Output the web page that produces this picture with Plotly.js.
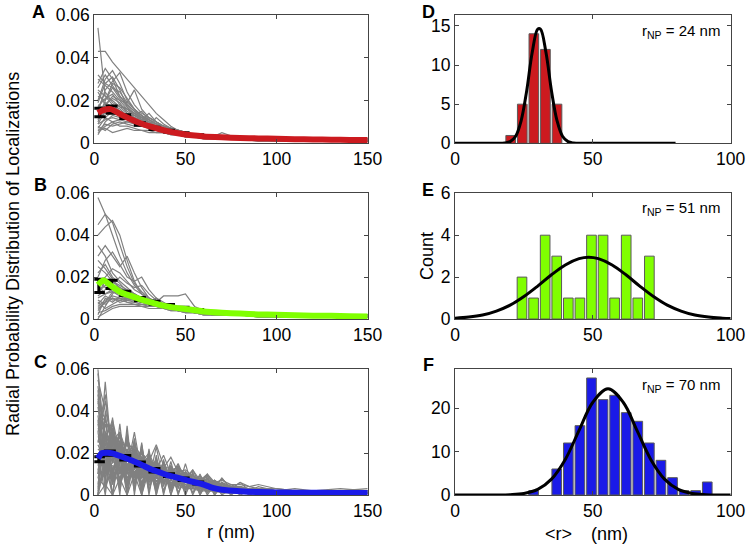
<!DOCTYPE html>
<html>
<head>
<meta charset="utf-8">
<script src="https://cdn.plot.ly/plotly-3.0.1.min.js"></script>
<style>html,body{margin:0;padding:0;background:#fff;}#chart{width:747px;height:545px;}</style>
</head>
<body>
<div id="chart"></div>
<script>
// ---------- data ----------
// x grid (nm) of individual radial distributions, panels A and B
const XG = [2,6,10,14,18,22,26,30,34,38,42,46,50,55,60,65,70,80,90,100,115,130,150];
const grayA = [
 [.054,.022,.018,.015,.012,.010,.009,.007,.006,.005,.004,.004,.003,.003,.002,.002,.002,.002,.001,.001,.001,.001,.001],
 [.043,.043,.038,.034,.030,.026,.022,.018,.014,.011,.008,.006,.005,.004,.003,.003,.002,.002,.002,.001,.001,.001,.001],
 [.028,.035,.030,.022,.018,.015,.012,.009,.007,.006,.005,.004,.003,.003,.002,.002,.002,.002,.001,.001,.001,.001,.001],
 [.020,.030,.034,.028,.020,.016,.013,.011,.009,.007,.006,.005,.004,.003,.003,.003,.002,.002,.002,.002,.001,.001,.001],
 [.015,.025,.029,.033,.024,.018,.014,.012,.010,.008,.006,.005,.004,.004,.003,.003,.002,.002,.002,.001,.001,.001,.001],
 [.010,.018,.022,.020,.019,.025,.016,.012,.010,.008,.007,.006,.005,.004,.003,.003,.003,.002,.002,.002,.002,.001,.001],
 [.012,.014,.016,.015,.013,.012,.011,.014,.010,.008,.006,.005,.004,.003,.003,.003,.002,.002,.002,.002,.001,.001,.001],
 [.005,.008,.010,.011,.012,.011,.010,.009,.008,.007,.006,.005,.004,.004,.003,.003,.003,.002,.002,.002,.002,.002,.001],
 [.025,.022,.020,.017,.014,.012,.010,.008,.007,.006,.005,.004,.004,.003,.003,.002,.002,.002,.002,.001,.001,.001,.001],
 [.008,.006,.009,.010,.009,.008,.008,.007,.007,.006,.005,.005,.004,.004,.003,.003,.003,.003,.002,.002,.002,.002,.002],
 [.030,.027,.024,.020,.016,.014,.011,.009,.008,.007,.006,.005,.004,.003,.003,.002,.002,.002,.002,.001,.001,.001,.001],
 [.004,.010,.013,.012,.011,.010,.009,.008,.007,.006,.006,.005,.005,.004,.004,.003,.003,.003,.003,.002,.002,.002,.002],
 [.018,.016,.014,.013,.011,.010,.009,.008,.007,.006,.005,.004,.004,.003,.003,.003,.005,.002,.002,.002,.002,.001,.002],
 [.022,.020,.028,.026,.021,.016,.013,.010,.008,.007,.006,.005,.004,.004,.003,.003,.002,.002,.002,.002,.001,.001,.001],
 [.014,.012,.010,.008,.008,.007,.006,.006,.005,.005,.004,.004,.003,.003,.003,.003,.002,.002,.002,.002,.002,.002,.002],
 [.009,.015,.018,.016,.013,.011,.009,.008,.012,.009,.007,.006,.005,.004,.003,.003,.003,.002,.002,.002,.001,.001,.001],
 [.016,.024,.019,.017,.016,.014,.012,.011,.009,.007,.006,.005,.005,.004,.003,.003,.003,.003,.002,.002,.002,.001,.001],
 [.006,.007,.005,.006,.007,.006,.006,.005,.005,.005,.004,.004,.004,.003,.003,.003,.003,.003,.003,.002,.002,.002,.002],
 [.026,.032,.027,.022,.018,.015,.013,.011,.009,.007,.006,.005,.004,.004,.003,.003,.002,.002,.002,.002,.001,.001,.001],
 [.011,.020,.026,.024,.019,.016,.013,.010,.008,.007,.006,.005,.004,.003,.003,.003,.002,.002,.002,.001,.001,.001,.001],
 [.019,.028,.031,.025,.017,.014,.012,.010,.008,.007,.006,.005,.005,.004,.003,.003,.003,.002,.002,.002,.002,.001,.001],
 [.007,.012,.015,.014,.013,.013,.012,.010,.009,.008,.007,.006,.005,.004,.003,.003,.003,.002,.002,.002,.002,.002,.002],
 [.013,.019,.017,.018,.016,.013,.011,.012,.010,.008,.007,.006,.005,.004,.004,.003,.003,.002,.002,.002,.001,.001,.001],
 [.032,.028,.026,.021,.017,.013,.011,.009,.008,.007,.006,.005,.004,.003,.003,.003,.002,.002,.002,.001,.001,.001,.001],
 [.009,.011,.012,.011,.010,.009,.008,.008,.007,.006,.006,.005,.004,.004,.003,.003,.003,.002,.002,.002,.002,.002,.002],
 [.017,.021,.023,.018,.015,.013,.015,.011,.009,.008,.007,.006,.005,.004,.004,.003,.003,.002,.002,.002,.002,.001,.001],
 [.006,.009,.008,.009,.010,.010,.009,.009,.008,.007,.006,.006,.005,.004,.004,.003,.003,.003,.002,.002,.002,.002,.002],
 [.024,.018,.021,.019,.014,.012,.010,.009,.008,.006,.005,.005,.004,.003,.003,.003,.002,.002,.002,.002,.001,.001,.001]
];
const grayB = [
 [.058,.050,.040,.030,.022,.016,.012,.009,.007,.006,.005,.004,.003,.003,.002,.002,.002,.002,.001,.001,.001,.001,.001],
 [.045,.050,.046,.035,.025,.017,.013,.010,.008,.006,.005,.004,.004,.003,.003,.002,.002,.002,.001,.001,.001,.001,.001],
 [.040,.044,.047,.040,.028,.018,.012,.009,.007,.006,.005,.004,.003,.003,.002,.002,.002,.002,.001,.001,.001,.001,.001],
 [.030,.035,.030,.025,.030,.022,.015,.010,.008,.006,.005,.004,.004,.003,.003,.002,.002,.002,.002,.001,.001,.001,.001],
 [.020,.028,.032,.026,.020,.018,.020,.014,.010,.008,.006,.005,.004,.003,.003,.002,.002,.002,.002,.001,.001,.001,.001],
 [.015,.020,.024,.022,.018,.014,.012,.010,.008,.011,.011,.011,.012,.006,.004,.003,.003,.002,.002,.002,.001,.001,.001],
 [.010,.012,.013,.012,.011,.010,.009,.008,.007,.006,.006,.005,.004,.004,.003,.003,.003,.002,.002,.002,.002,.001,.001],
 [.005,.008,.010,.009,.008,.008,.007,.007,.006,.006,.005,.005,.004,.004,.003,.003,.003,.003,.002,.002,.002,.002,.002],
 [.000,.006,.012,.015,.013,.011,.009,.008,.007,.006,.005,.004,.004,.003,.003,.003,.002,.002,.002,.002,.001,.001,.001],
 [.025,.022,.018,.016,.014,.012,.010,.008,.007,.006,.005,.004,.004,.003,.003,.002,.002,.002,.002,.001,.001,.001,.001],
 [.012,.018,.016,.020,.017,.015,.016,.012,.009,.007,.006,.005,.004,.004,.003,.003,.002,.002,.002,.002,.001,.001,.001],
 [.008,.005,.007,.009,.010,.009,.008,.008,.007,.007,.006,.005,.005,.004,.004,.003,.003,.003,.002,.002,.002,.002,.002],
 [.035,.030,.022,.018,.015,.012,.010,.008,.006,.005,.004,.004,.003,.003,.002,.002,.002,.002,.001,.001,.001,.001,.001],
 [.003,.004,.006,.007,.007,.007,.006,.006,.006,.005,.005,.005,.004,.004,.003,.003,.003,.003,.003,.002,.002,.002,.002],
 [.018,.015,.013,.012,.010,.009,.008,.007,.007,.006,.005,.005,.004,.004,.003,.003,.003,.002,.002,.002,.002,.002,.001],
 [.002,.010,.008,.011,.009,.010,.008,.009,.007,.006,.005,.004,.004,.003,.003,.003,.003,.002,.002,.002,.002,.002,.002],
 [.006,.009,.011,.010,.009,.009,.008,.007,.007,.006,.005,.005,.004,.004,.003,.003,.003,.002,.002,.002,.002,.002,.002],
 [.013,.016,.015,.013,.012,.011,.010,.009,.008,.007,.006,.005,.004,.004,.003,.003,.002,.002,.002,.002,.001,.001,.001],
 [.004,.008,.013,.011,.010,.011,.009,.008,.007,.006,.005,.005,.004,.004,.003,.003,.003,.002,.002,.002,.002,.001,.001],
 [.022,.026,.020,.017,.013,.011,.010,.009,.008,.007,.006,.005,.004,.004,.003,.003,.002,.002,.002,.002,.001,.001,.001],
 [.009,.007,.010,.008,.009,.008,.009,.007,.007,.006,.006,.005,.005,.004,.004,.003,.003,.003,.002,.002,.002,.002,.002],
 [.016,.012,.014,.013,.012,.010,.009,.008,.007,.007,.006,.005,.004,.004,.003,.003,.003,.002,.002,.002,.002,.002,.001],
 [.001,.003,.005,.006,.006,.006,.006,.005,.005,.005,.004,.004,.004,.003,.003,.003,.003,.003,.002,.002,.002,.002,.002],
 [.028,.024,.019,.014,.012,.010,.009,.008,.007,.006,.005,.004,.004,.003,.003,.002,.002,.002,.002,.001,.001,.001,.001],
 [.011,.014,.018,.015,.013,.012,.010,.008,.010,.007,.006,.005,.004,.004,.003,.003,.002,.002,.002,.002,.002,.001,.001],
 [.007,.011,.009,.010,.008,.007,.007,.006,.006,.005,.005,.004,.004,.004,.003,.003,.003,.002,.002,.002,.002,.002,.002]
];
// x grid (nm) of individual radial distributions, panel C
const XC = [2,6,10,14,18,22,26,30,34,38,42,46,50,54,58,62,66,70,75,80,85,90,100,110,120,135,150];
const grayC = [
 [.060,.020,.030,.010,.022,.008,.018,.006,.014,.005,.010,.004,.008,.003,.006,.002,.004,.002,.002,.001,.001,.001,.001,.001,.001,.001,.001],
 [.010,.054,.015,.030,.010,.022,.008,.016,.006,.012,.005,.009,.004,.007,.003,.005,.003,.003,.002,.002,.001,.001,.001,.001,.001,.001,.001],
 [.045,.005,.037,.004,.028,.003,.022,.002,.016,.002,.012,.001,.009,.001,.006,.001,.004,.001,.002,.001,.001,.001,.001,.001,.001,.001,.001],
 [.000,.040,.005,.034,.004,.027,.003,.020,.003,.015,.002,.011,.002,.008,.001,.006,.001,.004,.001,.002,.001,.001,.001,.000,.001,.000,.001],
 [.035,.030,.025,.028,.020,.024,.018,.016,.024,.014,.012,.013,.010,.009,.008,.007,.006,.005,.004,.003,.003,.002,.002,.002,.001,.001,.001],
 [.020,.000,.025,.000,.033,.000,.025,.000,.019,.000,.014,.000,.010,.000,.007,.000,.005,.000,.003,.000,.002,.000,.001,.000,.001,.000,.001],
 [.028,.022,.020,.018,.017,.016,.015,.014,.013,.012,.010,.009,.008,.007,.006,.005,.004,.003,.003,.002,.002,.002,.001,.001,.001,.001,.001],
 [.015,.018,.020,.019,.017,.016,.014,.013,.011,.010,.009,.008,.007,.006,.005,.004,.003,.003,.002,.002,.002,.001,.001,.001,.001,.001,.001],
 [.050,.010,.030,.012,.020,.010,.015,.008,.012,.006,.009,.005,.007,.004,.005,.003,.004,.002,.002,.002,.001,.001,.001,.001,.001,.001,.001],
 [.005,.030,.010,.025,.012,.030,.010,.018,.008,.015,.007,.012,.006,.010,.005,.008,.004,.006,.004,.003,.002,.002,.002,.001,.001,.001,.001],
 [.040,.035,.030,.022,.018,.014,.012,.010,.008,.007,.006,.005,.004,.003,.003,.002,.002,.002,.001,.001,.001,.001,.001,.000,.001,.000,.001],
 [.000,.015,.000,.020,.000,.018,.000,.022,.000,.017,.000,.014,.000,.011,.000,.008,.000,.006,.000,.004,.000,.002,.001,.000,.001,.000,.001],
 [.025,.045,.020,.015,.025,.012,.020,.010,.016,.008,.013,.007,.011,.006,.009,.005,.007,.004,.005,.003,.003,.002,.002,.001,.001,.001,.001],
 [.012,.010,.014,.012,.013,.011,.012,.010,.010,.009,.009,.008,.007,.006,.006,.005,.004,.004,.003,.003,.002,.002,.002,.001,.001,.001,.001],
 [.030,.008,.022,.006,.030,.005,.024,.004,.018,.004,.016,.003,.015,.003,.010,.002,.007,.002,.005,.002,.003,.001,.001,.001,.001,.001,.001],
 [.008,.025,.006,.020,.005,.017,.004,.014,.004,.012,.003,.010,.003,.008,.002,.006,.002,.005,.002,.003,.001,.002,.001,.001,.001,.001,.001],
 [.055,.040,.028,.020,.015,.012,.010,.008,.007,.006,.005,.004,.003,.003,.002,.002,.002,.001,.001,.001,.001,.001,.001,.001,.000,.001,.000],
 [.018,.022,.026,.024,.021,.019,.017,.015,.013,.012,.011,.010,.009,.008,.007,.006,.005,.004,.003,.003,.002,.002,.002,.001,.002,.001,.001],
 [.000,.005,.000,.008,.000,.010,.000,.012,.002,.013,.002,.012,.003,.010,.003,.009,.003,.008,.003,.006,.004,.005,.003,.002,.002,.001,.001],
 [.038,.012,.032,.010,.026,.020,.020,.016,.015,.013,.018,.011,.012,.009,.007,.010,.006,.005,.004,.004,.003,.002,.002,.001,.001,.001,.001],
 [.022,.018,.016,.014,.012,.011,.010,.009,.008,.007,.007,.006,.006,.005,.005,.004,.004,.003,.003,.003,.002,.002,.002,.002,.002,.002,.002],
 [.010,.028,.012,.022,.010,.026,.009,.020,.008,.016,.007,.014,.006,.012,.005,.010,.004,.008,.003,.006,.002,.004,.002,.003,.002,.001,.001],
 [.032,.026,.036,.020,.024,.016,.018,.012,.014,.010,.011,.008,.009,.007,.007,.005,.005,.004,.003,.003,.002,.002,.001,.001,.001,.001,.001],
 [.004,.012,.008,.016,.010,.014,.012,.010,.011,.009,.008,.009,.007,.006,.006,.005,.006,.004,.004,.003,.003,.003,.002,.002,.001,.002,.003],
 [.048,.015,.020,.030,.012,.020,.010,.015,.009,.012,.008,.010,.006,.008,.005,.006,.004,.005,.003,.004,.002,.003,.002,.001,.001,.001,.001],
 [.016,.034,.018,.028,.016,.020,.014,.016,.012,.019,.010,.014,.008,.012,.007,.009,.006,.007,.005,.005,.004,.003,.003,.002,.002,.002,.002],
 [.042,.018,.034,.015,.026,.012,.021,.010,.017,.008,.013,.006,.010,.005,.007,.004,.005,.003,.003,.002,.002,.001,.001,.001,.001,.001,.001],
 [.003,.038,.008,.030,.006,.024,.005,.019,.004,.016,.004,.013,.003,.010,.003,.008,.002,.006,.002,.004,.002,.002,.001,.001,.001,.001,.001],
 [.052,.025,.012,.020,.008,.016,.006,.013,.005,.010,.004,.008,.003,.006,.003,.005,.002,.003,.002,.002,.001,.001,.001,.001,.001,.001,.001],
 [.024,.016,.030,.012,.022,.010,.016,.020,.012,.010,.009,.015,.007,.006,.009,.005,.004,.004,.003,.003,.002,.002,.002,.001,.001,.001,.001],
 [.000,.020,.000,.024,.002,.021,.002,.018,.002,.015,.002,.012,.002,.010,.001,.008,.001,.006,.001,.004,.001,.003,.001,.001,.001,.001,.001],
 [.036,.002,.028,.002,.022,.002,.018,.002,.015,.001,.012,.001,.010,.001,.008,.001,.006,.001,.004,.001,.002,.001,.001,.000,.001,.000,.001],
 [.014,.026,.022,.016,.020,.018,.013,.015,.011,.012,.009,.010,.008,.008,.006,.006,.005,.004,.004,.003,.002,.002,.002,.002,.001,.001,.001],
 [.046,.030,.018,.026,.014,.018,.011,.014,.009,.011,.008,.009,.006,.007,.005,.006,.004,.004,.003,.003,.002,.002,.001,.001,.001,.001,.001],
 [.006,.010,.018,.008,.015,.007,.013,.006,.011,.006,.010,.005,.008,.005,.007,.004,.006,.004,.004,.003,.003,.002,.002,.002,.002,.003,.002],
 [.030,.048,.016,.024,.011,.019,.009,.014,.008,.010,.006,.008,.005,.006,.004,.005,.003,.004,.002,.003,.002,.002,.001,.001,.001,.001,.001],
 [.020,.012,.024,.010,.018,.008,.015,.007,.023,.006,.011,.005,.009,.004,.007,.003,.005,.003,.003,.002,.002,.001,.001,.001,.001,.001,.001],
 [.000,.030,.000,.026,.000,.020,.000,.016,.000,.013,.000,.010,.000,.008,.000,.006,.000,.004,.000,.003,.000,.002,.001,.000,.001,.000,.001],
 [.026,.020,.018,.017,.020,.015,.014,.012,.011,.011,.009,.008,.008,.007,.006,.005,.005,.004,.003,.003,.002,.002,.002,.001,.001,.001,.002],
 [.008,.004,.012,.005,.014,.006,.016,.007,.014,.008,.012,.008,.011,.007,.009,.006,.007,.005,.004,.004,.003,.003,.002,.002,.002,.001,.001],
 [.044,.036,.026,.030,.020,.022,.016,.017,.013,.013,.010,.010,.008,.008,.006,.006,.004,.004,.003,.003,.002,.002,.001,.001,.001,.001,.001],
 [.012,.022,.005,.018,.004,.015,.004,.012,.003,.011,.003,.009,.003,.007,.002,.005,.002,.004,.002,.003,.001,.002,.002,.001,.001,.001,.001],
 [.034,.010,.020,.028,.010,.014,.008,.012,.010,.008,.013,.007,.010,.006,.008,.005,.006,.004,.004,.003,.003,.002,.002,.002,.001,.002,.001],
 [.018,.028,.034,.016,.028,.014,.022,.011,.017,.009,.014,.008,.011,.007,.008,.005,.006,.004,.003,.003,.002,.002,.001,.001,.001,.001,.001],
 [.002,.016,.010,.012,.006,.011,.005,.009,.005,.008,.004,.008,.004,.007,.004,.006,.003,.005,.003,.004,.002,.003,.002,.002,.002,.002,.002],
 [.058,.022,.026,.014,.018,.010,.014,.009,.011,.007,.009,.006,.007,.005,.005,.004,.004,.003,.003,.002,.002,.002,.001,.001,.001,.001,.001]
];
// mean distributions
const meanX = [2,5,9,15,20,25,30,35,40,45,50,55,60,70,80,90,100,110,120,130,140,150];
const meanA = [.0142,.0155,.0160,.0133,.0113,.0095,.0080,.0068,.0057,.0048,.0041,.0036,.0032,.0028,.0025,.0023,.0021,.0019,.0018,.0017,.0016,.0015];
const meanB = [.0163,.0185,.0160,.0125,.0110,.0095,.0082,.0070,.0060,.0053,.0048,.0042,.0036,.0030,.0026,.0022,.0020,.0018,.0016,.0015,.0013,.0012];
const meanCX = [2,4,7,10,15,20,25,30,35,40,45,50,55,60,65,70,80,90,100,110,120,130,140,150];
const meanC = [.0175,.0199,.0202,.0199,.0183,.0167,.0148,.0127,.0111,.0095,.0084,.0072,.0061,.0050,.0034,.0025,.0018,.0014,.0012,.0011,.0011,.0010,.0010,.0010];
// error bars (mean +/- sem)
const errAX = [3,9.5,17,25,33,41,49,57];
const errAY = [.0144,.0157,.0125,.0090,.0070,.0057,.0045,.0037];
const errAE = [.0020,.0017,.0009,.0006,.0005,.0004,.0004,.0003];
const errBX = [2.5,9.5,17,25,33,41,49,57];
const errBY = [.0158,.0165,.0122,.0095,.0078,.0063,.0051,.0041];
const errBE = [.0032,.0020,.0010,.0008,.0007,.0006,.0005,.0004];
const errCX = [2.5,8.5,17,25,33,41,49,57];
const errCY = [.0171,.0200,.0178,.0148,.0118,.0095,.0075,.0057];
const errCE = [.0012,.0010,.0011,.0009,.0008,.0007,.0006,.0005];
// histograms of <r>
const histDX = [20.2,24.4,28.6,32.8,37.0];
const histDY = [1,5,14,12,5];
const histEX = [24.3,28.5,32.7,36.9,41.1,45.3,49.5,53.7,57.9,62.1,66.3,70.5];
const histEY = [2,1,4,3,1,1,4,4,1,4,1,3];
const histFX = [28.5,36.9,41.1,45.3,49.5,53.7,57.9,62.1,66.3,70.5,74.7,78.9,83.1,87.3,91.5];
const histFY = [1,6,12,16,27,22,23,19,17,12,8,4,1,1,3];
// fitted curves
const fitDX = [0,10,15,18,20,22,24,26,28,30,31,33,35,37,39,41,43,46,50,60,80];
const fitDY = [0,0,0.01,0.04,0.21,0.9,2.9,6.7,11.6,14.6,14.6,11.6,6.7,2.9,0.9,0.21,0.04,0,0,0,0];
const fitEX = [0,5,10,15,20,25,30,35,40,45,48.5,52,57,62,67,72,77,82,87,92,97,100];
const fitEY = [0.04,0.09,0.19,0.38,0.66,1.07,1.57,2.11,2.58,2.88,2.95,2.88,2.58,2.11,1.57,1.07,0.66,0.38,0.19,0.09,0.04,0.02];
const fitFX = [0,10,15,20,25,30,35,40,45,50,55.5,61,66,71,76,81,86,91,96,100];
const fitFY = [0,0,0.01,0.08,0.36,1.28,3.66,8.2,14.9,21.4,24.5,21.4,14.9,8.2,3.66,1.28,0.36,0.08,0.01,0];
const rnpLabels = ['24','51','70'];
const leftYTicks = [0,0.02,0.04,0.06];
const leftYText = ['0','0.02','0.04','0.06'];

// ---------- styling ----------
const GRAY = '#808080';
const RED = '#cc1a1f', GREEN = '#80ff00', BLUE = '#1a1ae8';
const FONT = 'Liberation Sans, Arial, sans-serif';
const W = 747, H = 545;
const px = v => v / W, py = v => 1 - v / H;

const traces = [];
function grayTraces(xs, rows, ax) {
  rows.forEach(r => traces.push({x: xs, y: r, xaxis: 'x' + ax, yaxis: 'y' + ax, type: 'scatter', mode: 'lines',
    line: {color: GRAY, width: 1.2}, hoverinfo: 'skip', showlegend: false}));
}
function errTrace(xs, ys, es, ax) {
  traces.push({x: xs, y: ys, xaxis: 'x' + ax, yaxis: 'y' + ax, type: 'scatter', mode: 'markers',
    marker: {size: 2, color: 'rgba(0,0,0,0)'},
    error_y: {type: 'data', array: es, visible: true, color: '#000', thickness: 3, width: 6},
    hoverinfo: 'skip', showlegend: false});
}
function meanTrace(xs, ys, col, ax) {
  traces.push({x: xs, y: ys, xaxis: 'x' + ax, yaxis: 'y' + ax, type: 'scatter', mode: 'lines',
    line: {color: col, width: 6, shape: 'spline', smoothing: 0.6}, hoverinfo: 'skip', showlegend: false});
}
function histTrace(xs, ys, col, ax) {
  traces.push({x: xs, y: ys, xaxis: 'x' + ax, yaxis: 'y' + ax, type: 'bar', width: 3.5,
    marker: {color: col, line: {color: '#5a5a5a', width: 1}}, hoverinfo: 'skip', showlegend: false});
}
function fitTrace(xs, ys, ax) {
  traces.push({x: xs, y: ys, xaxis: 'x' + ax, yaxis: 'y' + ax, type: 'scatter', mode: 'lines',
    line: {color: '#000', width: 3, shape: 'spline', smoothing: 1}, hoverinfo: 'skip', showlegend: false});
}

grayTraces(XG, grayA, ''); errTrace(errAX, errAY, errAE, ''); meanTrace(meanX, meanA, RED, '');
grayTraces(XG, grayB, '2'); errTrace(errBX, errBY, errBE, '2'); meanTrace(meanX, meanB, GREEN, '2');
grayTraces(XC, grayC, '3'); errTrace(errCX, errCY, errCE, '3'); meanTrace(meanCX, meanC, BLUE, '3');
histTrace(histDX, histDY, RED, '4'); fitTrace(fitDX, fitDY, '4');
histTrace(histEX, histEY, GREEN, '5'); fitTrace(fitEX, fitEY, '5');
histTrace(histFX, histFY, BLUE, '6'); fitTrace(fitFX, fitFY, '6');

const LX = [px(94.3), px(367.7)];
const RX = [px(455), px(730.7)];
const ROWS = [[py(143.3), py(15)], [py(319), py(193.3)], [py(495), py(369.3)]];

function axBase(extra) {
  return Object.assign({showgrid: false, zeroline: false, showline: true, mirror: 'ticks',
    linecolor: '#444', linewidth: 1, ticks: 'inside', ticklen: 4, tickcolor: '#444',
    tickfont: {family: FONT, size: 17.5, color: '#000'}, fixedrange: true}, extra);
}
const layout = {
  width: W, height: H, margin: {l: 0, r: 0, t: 0, b: 0},
  paper_bgcolor: '#fff', plot_bgcolor: '#fff', showlegend: false, bargap: 0,
  font: {family: FONT, color: '#000'},
  xaxis:  axBase({domain: LX, range: [0,150], tickvals: [0,50,100,150], anchor: 'y'}),
  yaxis:  axBase({domain: ROWS[0], range: [0,0.06], tickvals: leftYTicks, ticktext: leftYText, anchor: 'x'}),
  xaxis2: axBase({domain: LX, range: [0,150], tickvals: [0,50,100,150], anchor: 'y2'}),
  yaxis2: axBase({domain: ROWS[1], range: [0,0.06], tickvals: leftYTicks, ticktext: leftYText, anchor: 'x2'}),
  xaxis3: axBase({domain: LX, range: [0,150], tickvals: [0,50,100,150], anchor: 'y3'}),
  yaxis3: axBase({domain: ROWS[2], range: [0,0.06], tickvals: leftYTicks, ticktext: leftYText, anchor: 'x3'}),
  xaxis4: axBase({domain: RX, range: [0,100], tickvals: [0,50,100], anchor: 'y4'}),
  yaxis4: axBase({domain: ROWS[0], range: [0,16.4], tickvals: [0,5,10,15], anchor: 'x4'}),
  xaxis5: axBase({domain: RX, range: [0,100], tickvals: [0,50,100], anchor: 'y5'}),
  yaxis5: axBase({domain: ROWS[1], range: [0,6], tickvals: [0,2,4,6], anchor: 'x5'}),
  xaxis6: axBase({domain: RX, range: [0,100], tickvals: [0,50,100], anchor: 'y6'}),
  yaxis6: axBase({domain: ROWS[2], range: [0,29], tickvals: [0,10,20], anchor: 'x6'}),
  annotations: []
};
const A = layout.annotations;
function note(text, x, y, size, opts) {
  A.push(Object.assign({text: text, xref: 'paper', yref: 'paper', x: px(x), y: py(y), showarrow: false,
    xanchor: 'center', yanchor: 'middle', font: {family: FONT, size: size, color: '#000'}}, opts || {}));
}
const bold = {family: FONT, size: 18, color: '#000', weight: 'bold'};
// panel letters
note('A', 38, 12.5, 18, {font: bold}); note('B', 40, 185, 18, {font: bold}); note('C', 40, 361.5, 18, {font: bold});
note('D', 428, 12.5, 18, {font: bold}); note('E', 428, 190, 18, {font: bold}); note('F', 428, 365, 18, {font: bold});
// r_NP labels
note('r<sub>NP</sub> = ' + rnpLabels[0] + ' nm', 722, 31, 15, {xanchor: 'right'});
note('r<sub>NP</sub> = ' + rnpLabels[1] + ' nm', 722, 209, 15, {xanchor: 'right'});
note('r<sub>NP</sub> = ' + rnpLabels[2] + ' nm', 722, 385, 15, {xanchor: 'right'});
// axis titles
note('Radial Probability Distribution of Localizations', 13, 254, 18, {textangle: -90});
note('Count', 427, 256, 18, {textangle: -90});
note('r (nm)', 231, 532, 18);
note('&lt;r&gt;', 558.5, 534, 18);
note('(nm)', 609, 534, 18);

Plotly.newPlot('chart', traces, layout, {staticPlot: true, displayModeBar: false});
</script>
</body>
</html>
